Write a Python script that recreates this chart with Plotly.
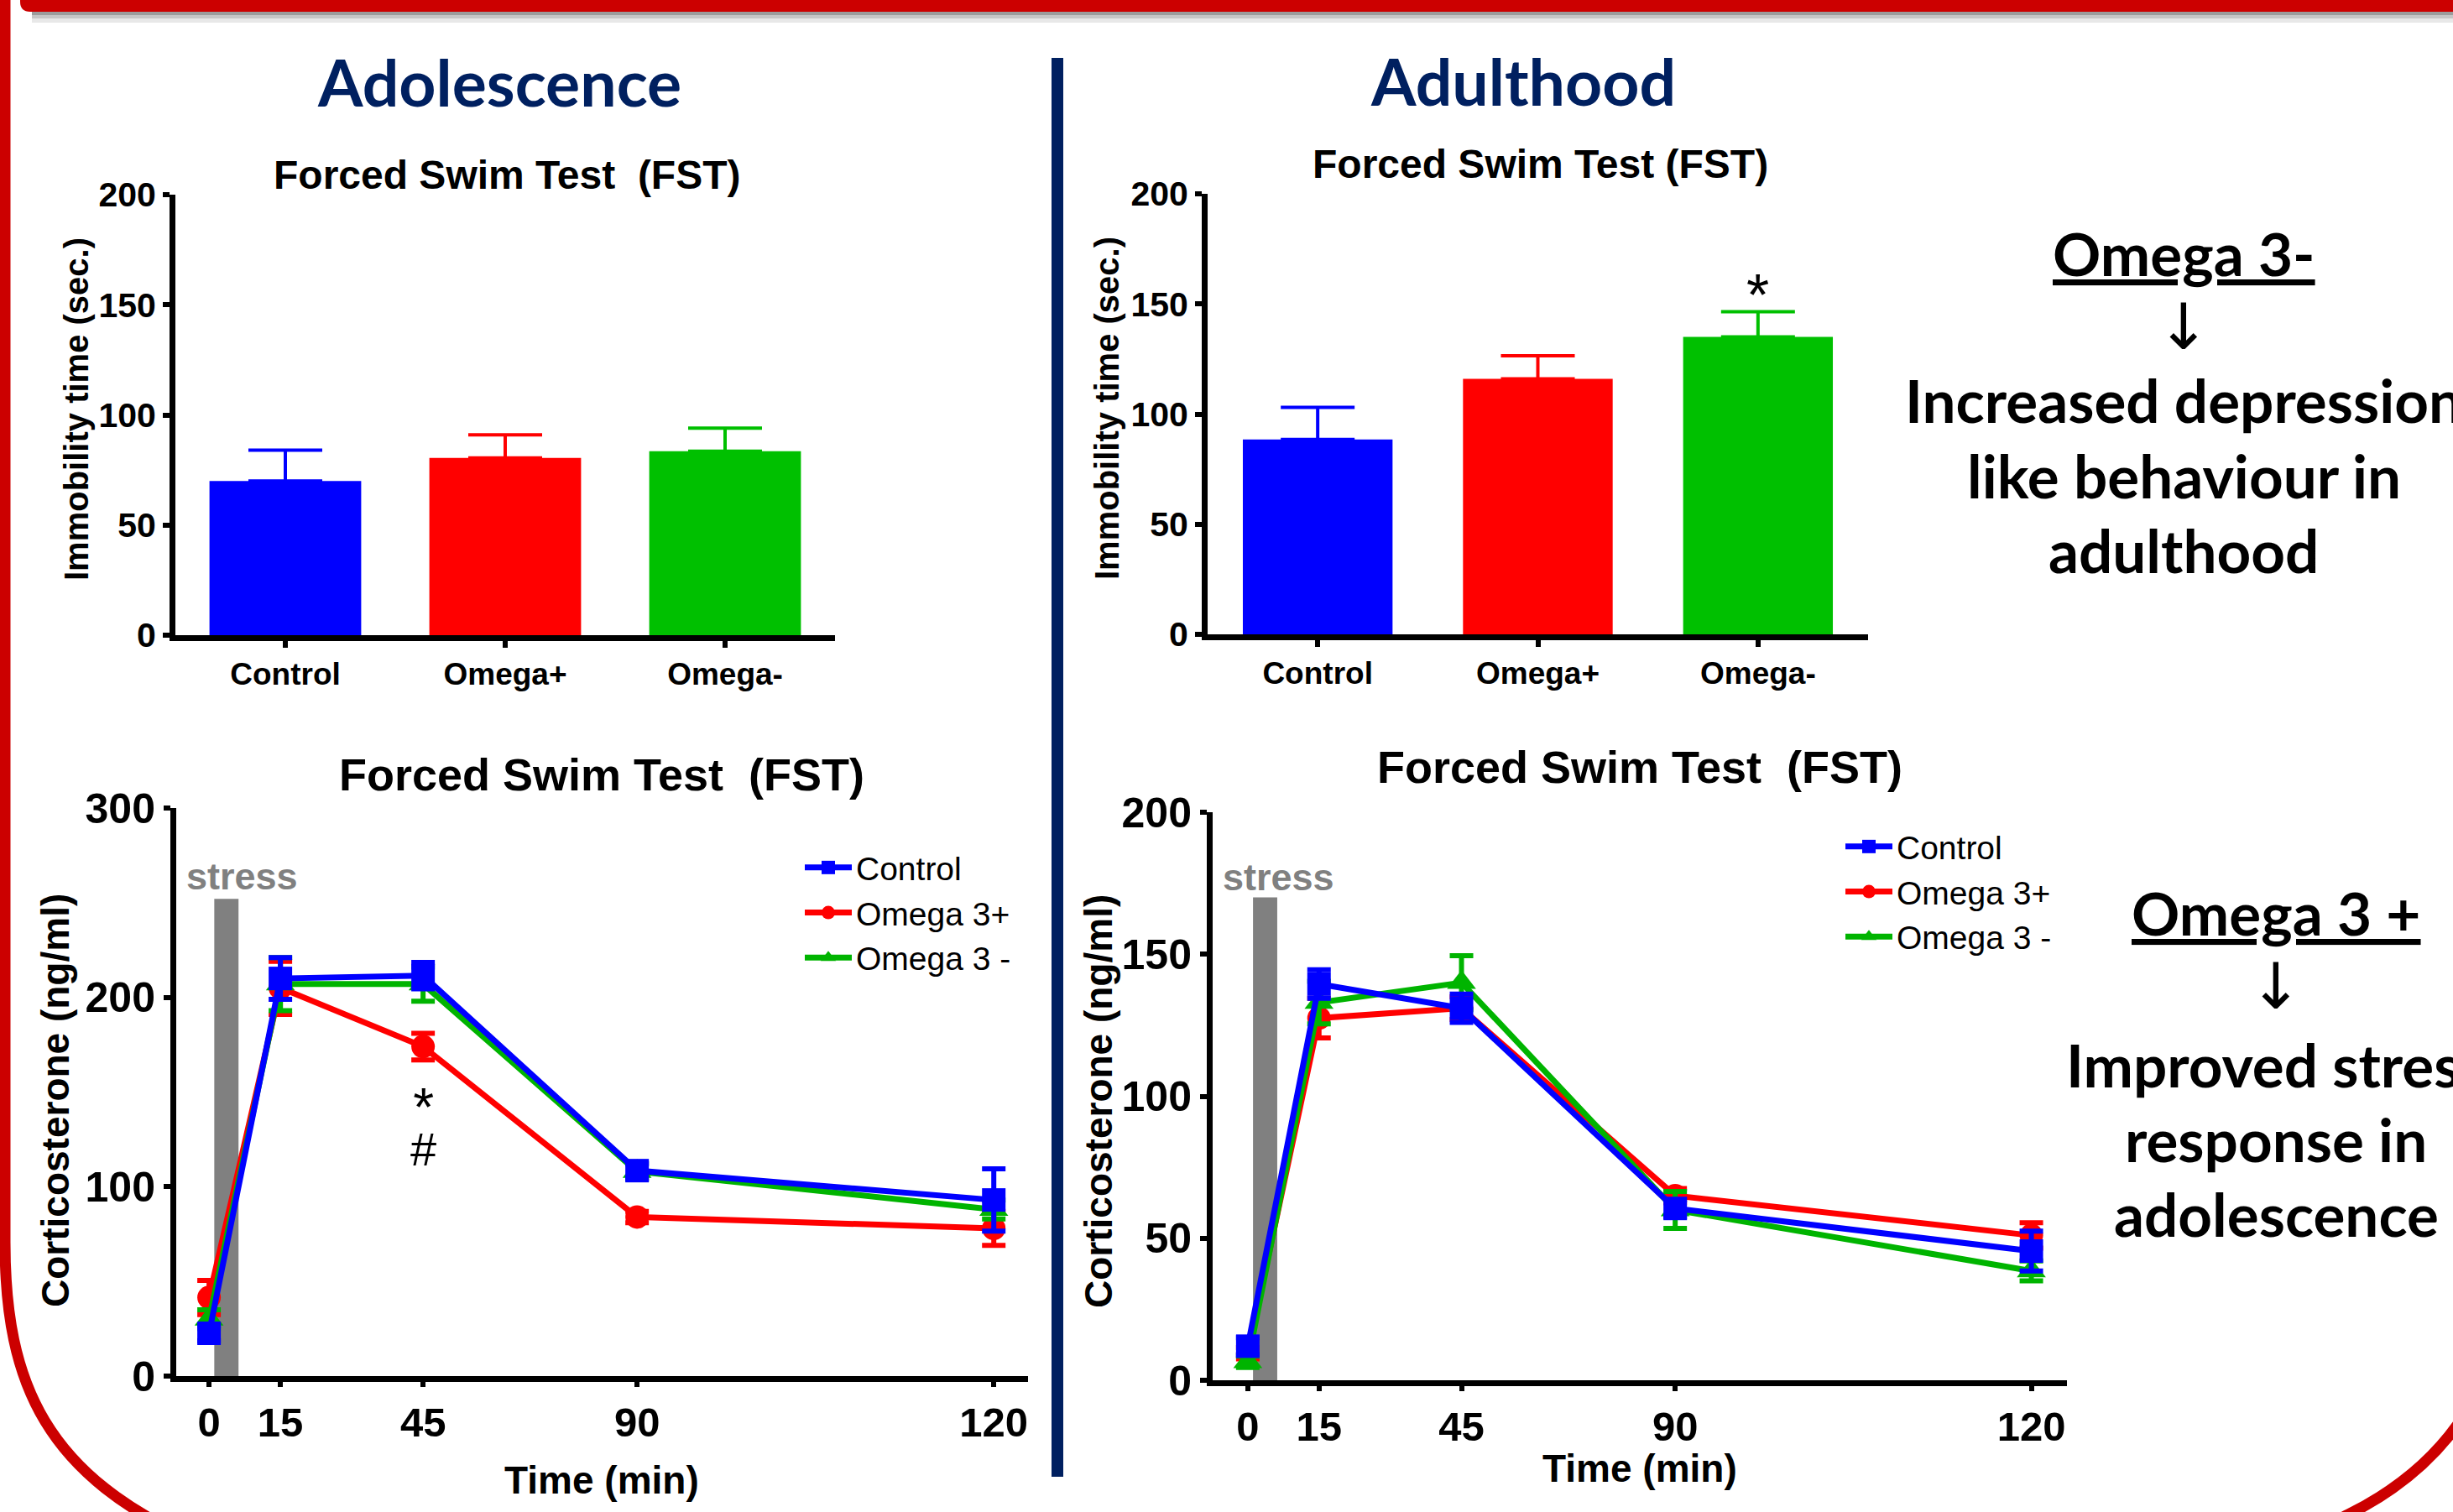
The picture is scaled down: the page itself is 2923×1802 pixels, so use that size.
import plotly.graph_objects as go

W, H = 2923, 1802

# ---------------- data ----------------
bar_groups = ["Control", "Omega+", "Omega-"]
bar_colors = ["#0000FF", "#FF0000", "#00C000"]
adol_immobility = [70, 80.5, 83.5]
adol_immobility_sem = [14, 10.5, 10.5]
adult_immobility = [88.5, 116, 135]
adult_immobility_sem = [14.5, 10.5, 11.5]

time_labels = ["0", "15", "45", "90", "120"]
time_pos = [0, 15, 45, 90, 165]  # plotting positions (axis stretched after 90 min)

series_names = ["Control", "Omega 3+", "Omega 3 -"]
series_colors = ["#0000FF", "#FF0000", "#00B400"]
series_symbols = ["square", "circle", "triangle-up"]

adol_control = [22.6, 210, 211.5, 108.5, 93]
adol_control_sem = [4, 11, 7, 4, 16.5]
adol_omega_plus = [41.5, 205, 174, 84, 78]
adol_omega_plus_sem = [9, 14, 7, 3, 9]
adol_omega_minus = [30, 207, 207, 108, 88]
adol_omega_minus_sem = [5, 14, 9, 4, 5]

adult_control = [12, 139.5, 131, 60.5, 45.5]
adult_control_sem = [3, 5, 5, 3, 7]
adult_omega_plus = [9.5, 127.5, 131, 65, 51]
adult_omega_plus_sem = [2, 7, 4, 2.5, 4.5]
adult_omega_minus = [6.5, 133, 140, 60, 38.5]
adult_omega_minus_sem = [2, 7.5, 9.5, 6.5, 3.5]

stress_window = [1.1, 6.2]
adol_stress_top = 252
adult_stress_top = 170

# ---------------- helpers ----------------
def X(px):
    return px / W

def Y(py):
    return 1 - py / H

def path(cmds):
    out = []
    for c in cmds:
        if isinstance(c, str):
            out.append(c)
        else:
            out.append(f"{X(c[0]):.5f},{Y(c[1]):.5f}")
    return " ".join(out)

ARIAL = "Liberation Sans"
WIDE = "DejaVu Sans"
CAL = "Lato"
NAVY = "#002060"
RED = "#CC0000"

fig = go.Figure()

# ---------------- bar charts ----------------
for i, g in enumerate(bar_groups):
    fig.add_trace(go.Bar(
        x=[g], y=[adol_immobility[i]], width=0.69,
        marker=dict(color=bar_colors[i], line=dict(width=0)),
        error_y=dict(type="data", symmetric=False, array=[adol_immobility_sem[i]],
                     arrayminus=[0], color=bar_colors[i], thickness=4, width=44),
        xaxis="x", yaxis="y", showlegend=False))
    fig.add_trace(go.Bar(
        x=[g], y=[adult_immobility[i]], width=0.68,
        marker=dict(color=bar_colors[i], line=dict(width=0)),
        error_y=dict(type="data", symmetric=False, array=[adult_immobility_sem[i]],
                     arrayminus=[0], color=bar_colors[i], thickness=4, width=44),
        xaxis="x2", yaxis="y2", showlegend=False))

# ---------------- line charts ----------------
adol_series = [(adol_control, adol_control_sem), (adol_omega_plus, adol_omega_plus_sem),
               (adol_omega_minus, adol_omega_minus_sem)]
adult_series = [(adult_control, adult_control_sem), (adult_omega_plus, adult_omega_plus_sem),
                (adult_omega_minus, adult_omega_minus_sem)]
draw_order = [1, 2, 0]
for panel, (data, xa, ya, lg) in enumerate([(adol_series, "x3", "y3", "legend"),
                                             (adult_series, "x4", "y4", "legend2")]):
    for k in draw_order:
        vals, sem = data[k]
        fig.add_trace(go.Scatter(
            x=time_pos, y=vals, mode="lines+markers", name=series_names[k],
            line=dict(color=series_colors[k], width=7),
            marker=dict(symbol=series_symbols[k], size=28 if k != 2 else 30,
                        color=series_colors[k], line=dict(width=0)),
            error_y=dict(type="data", array=sem, color=series_colors[k], thickness=6, width=14),
            xaxis=xa, yaxis=ya, legend=lg, legendrank=k + 1, cliponaxis=False))

# ---------------- axes ----------------
def yax(dom_top, dom_bot, rng, dtick, fsize):
    return dict(domain=[Y(dom_bot), Y(dom_top)], range=rng, tickmode="linear", tick0=0, dtick=dtick,
                showline=True, linewidth=7, linecolor="black", ticks="outside", ticklen=8,
                tickwidth=6, tickcolor="black", showgrid=False, zeroline=False, automargin=False,
                tickfont=dict(family=ARIAL, size=fsize, color="black", weight=700), fixedrange=True)

def xax_bar(left, right, anchor):
    return dict(domain=[X(left), X(right)], range=[-0.5, 2.5], type="category", anchor=anchor,
                showline=True, linewidth=7, linecolor="black", ticks="outside", ticklen=8,
                tickwidth=6, tickcolor="black", showgrid=False, zeroline=False, automargin=False,
                tickfont=dict(family=ARIAL, size=37, color="black", weight=700))

def xax_line(left, right, rng, anchor):
    return dict(domain=[X(left), X(right)], range=rng, anchor=anchor, tickmode="array",
                tickvals=time_pos, ticktext=time_labels,
                showline=True, linewidth=7, linecolor="black", ticks="outside", ticklen=6,
                tickwidth=6, tickcolor="black", showgrid=False, zeroline=False, automargin=False,
                tickfont=dict(family=ARIAL, size=49, color="black", weight=700))

layout_axes = dict(
    xaxis=xax_bar(209, 995, "y"),
    yaxis=dict(yax(232, 757, [0, 200], 50, 41), anchor="x"),
    xaxis2=xax_bar(1439, 2226, "y2"),
    yaxis2=dict(yax(231, 756, [0, 200], 50, 41), anchor="x2"),
    xaxis3=xax_line(210, 1225, [-6.9, 172.2], "y3"),
    yaxis3=dict(yax(963, 1640, [0, 300], 100, 50), anchor="x3"),
    xaxis4=xax_line(1445, 2463, [-7.4, 172.5], "y4"),
    yaxis4=dict(yax(968, 1645, [0, 200], 50, 50), anchor="x4"),
)

# ---------------- shapes ----------------
shapes = []
for xa, ya, top in [("x3", "y3", adol_stress_top), ("x4", "y4", adult_stress_top)]:
    shapes.append(dict(type="rect", xref=xa, yref=ya, x0=stress_window[0], x1=stress_window[1],
                       y0=0, y1=top, fillcolor="#808080", line=dict(width=0), layer="below"))
for (y0, y1, col) in [(14, 18, "#9c9c9c"), (18, 22, "#c6c6c6"), (22, 27, "#e8e8e8")]:
    shapes.append(dict(type="rect", xref="paper", yref="paper", x0=X(38), x1=X(2930),
                       y0=Y(y1), y1=Y(y0), fillcolor=col, line=dict(width=0), layer="above"))
shapes.append(dict(type="path", xref="paper", yref="paper",
                   path=path(["M", (24, -4), "L", (24, 2), "Q", (24, 14), "", (36, 14),
                              "L", (2930, 14), "L", (2930, -4), "Z"]),
                   fillcolor=RED, line=dict(width=0)))
shapes.append(dict(type="path", xref="paper", yref="paper",
                   path=path(["M", (6, -10), "L", (6, 1480), "C", (6, 1650), "", (55, 1760), "",
                              (240, 1840)]),
                   line=dict(color=RED, width=13)))
shapes.append(dict(type="path", xref="paper", yref="paper",
                   path=path(["M", (2965, 1630), "Q", (2905, 1785), "", (2700, 1842)]),
                   line=dict(color=RED, width=13)))
shapes.append(dict(type="line", xref="paper", yref="paper", x0=X(1260), x1=X(1260),
                   y0=Y(69), y1=Y(1760), line=dict(color=NAVY, width=14)))

# ---------------- annotations ----------------
ann = []
def txt(x, y, s, size, family=ARIAL, weight=700, color="black", angle=0):
    ann.append(dict(x=X(x), y=Y(y), xref="paper", yref="paper", text=s, showarrow=False,
                    xanchor="center", yanchor="middle", textangle=angle,
                    font=dict(family=family, size=size, weight=weight, color=color)))

txt(595, 97, "Adolescence", 77, CAL, 700, NAVY)
txt(1815, 96, "Adulthood", 77, CAL, 700, NAVY)
txt(604, 208, "Forced Swim Test  (FST)", 48)
txt(1835, 195, "Forced Swim Test (FST)", 48)
txt(717, 923, "Forced Swim Test  (FST)", 54)
txt(1954, 914, "Forced Swim Test  (FST)", 54)
txt(91, 488, "Immobility time (sec.)", 40, ARIAL, 700, angle=-90)
txt(1319, 487, "Immobility time (sec.)", 40, ARIAL, 700, angle=-90)
txt(66, 1312, "Corticosterone (ng/ml)", 46, ARIAL, 700, angle=-90)
txt(1309, 1313, "Corticosterone (ng/ml)", 46, ARIAL, 700, angle=-90)
txt(717, 1764, "Time (min)", 46)
txt(1954, 1750, "Time (min)", 46)

for xa, ya, xs, ys in [("x3", "y3", 6.9, 264), ("x4", "y4", 6.5, 177)]:
    ann.append(dict(x=xs, y=ys, xref=xa, yref=ya, text="stress", showarrow=False,
                    font=dict(family=ARIAL, size=45, weight=700, color="#808080")))
# significance marks (one stacked text: * above #)
ann.append(dict(x=45, y=132, xref="x3", yref="y3",
                text="<span style='font-size:64px'>*</span><br><span style='font-size:56px'>#</span>",
                showarrow=False, font=dict(family=ARIAL, size=36, color="black")))
ann.append(dict(x="Omega-", y=154, xref="x2", yref="y2", text="*", showarrow=False,
                font=dict(family=ARIAL, size=70, color="black")))

txt(2602, 302, "<u>Omega 3-</u>", 71, CAL)
txt(2602, 389, "↓", 76, WIDE, 400)
txt(2602, 477, "Increased depression", 71, CAL)
txt(2602, 566, "like behaviour in", 71, CAL)
txt(2602, 655, "adulthood", 71, CAL)
txt(2712, 1087, "<u>Omega 3 +</u>", 71, CAL)
txt(2712, 1175, "↓", 76, WIDE, 400)
txt(2712, 1268, "Improved stress", 71, CAL)
txt(2712, 1357, "response in", 71, CAL)
txt(2712, 1446, "adolescence", 71, CAL)

leg_common = dict(xanchor="left", yanchor="top", bgcolor="rgba(0,0,0,0)", borderwidth=0,
                  font=dict(family=ARIAL, size=39, color="black"), itemwidth=56,
                  traceorder="normal", tracegroupgap=0)

fig.update_layout(
    width=W, height=H, margin=dict(l=0, r=0, t=0, b=0, autoexpand=False),
    paper_bgcolor="white", plot_bgcolor="rgba(0,0,0,0)",
    barmode="overlay", shapes=shapes, annotations=ann,
    legend=dict(leg_common, x=X(954), y=Y(1002)),
    legend2=dict(leg_common, x=X(2194), y=Y(977)),
    **layout_axes,
)

fig.write_html("out.html", config={"displayModeBar": False},
               post_script="document.body.style.margin='0';document.body.style.overflow='hidden';")
